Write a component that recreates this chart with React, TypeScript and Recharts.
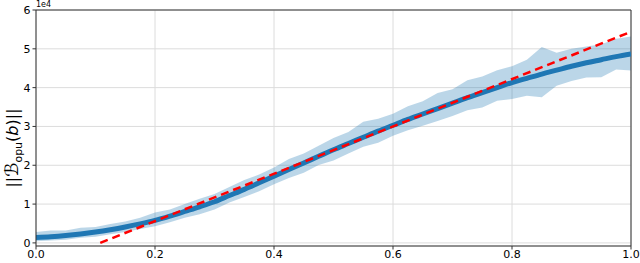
import React from "react";
import {
  ComposedChart,
  Area,
  Line,
  XAxis,
  YAxis,
  CartesianGrid,
  ReferenceLine,
} from "recharts";

// values in units of 1e4
const xs = [
  0, 0.025, 0.05, 0.075, 0.1, 0.125, 0.15, 0.175, 0.2, 0.225, 0.25, 0.275, 0.3,
  0.325, 0.35, 0.375, 0.4, 0.425, 0.45, 0.475, 0.5, 0.525, 0.55, 0.575, 0.6,
  0.625, 0.65, 0.675, 0.7, 0.725, 0.75, 0.775, 0.8, 0.825, 0.85, 0.875, 0.9,
  0.925, 0.95, 0.975, 1.0,
];
const meanVals = [
  0.14, 0.16, 0.19, 0.23, 0.28, 0.34, 0.41, 0.49, 0.58, 0.69, 0.81, 0.93, 1.06,
  1.22, 1.38, 1.55, 1.72, 1.89, 2.06, 2.23, 2.4, 2.56, 2.72, 2.88, 3.03, 3.18,
  3.32, 3.46, 3.6, 3.74, 3.87, 4.0, 4.13, 4.24, 4.35, 4.45, 4.55, 4.64, 4.72,
  4.8, 4.87,
];
const upperVals = [
  0.28, 0.32, 0.32, 0.39, 0.41, 0.49, 0.55, 0.65, 0.78, 0.86, 1.0, 1.14, 1.26,
  1.44, 1.62, 1.76, 1.94, 2.16, 2.3, 2.5, 2.7, 2.86, 3.12, 3.2, 3.33, 3.52,
  3.65, 3.86, 3.96, 4.19, 4.29, 4.45, 4.55, 4.72, 5.05, 4.9, 5.0, 5.06, 5.12,
  5.26, 5.32,
];
const lowerVals = [
  0.04, 0.06, 0.08, 0.13, 0.16, 0.22, 0.28, 0.36, 0.43, 0.53, 0.65, 0.74, 0.86,
  1.04, 1.18, 1.33, 1.51, 1.67, 1.81, 2.01, 2.12, 2.3, 2.48, 2.58, 2.76, 2.9,
  3.02, 3.14, 3.27, 3.42, 3.49, 3.66, 3.71, 3.79, 3.75, 4.05, 4.17, 4.26, 4.27,
  4.47, 4.44,
];

// red dashed reference line endpoints
const fitX = [0.108, 1.0];
const fitY = [0, 5.44];

const xTicks = [0, 0.2, 0.4, 0.6, 0.8, 1.0];
const yTicks = [0, 1, 2, 3, 4, 5, 6];

const data = xs.map((x, i) => ({
  x,
  mean: meanVals[i],
  band: [lowerVals[i], upperVals[i]],
}));
const fitData = fitX.map((x, i) => ({ x, fit: fitY[i] }));

const FONT = "DejaVu Sans, sans-serif";
const tickStyle = { fontSize: 11, fill: "#000", fontFamily: FONT };

export default function App() {
  return (
    <div style={{ position: "absolute", left: 0, top: 0, width: 640, height: 263, background: "#fff" }}>
      <ComposedChart
        width={640}
        height={263}
        data={data}
        margin={{ top: 10, right: 9, bottom: 0, left: 0 }}
      >
        <CartesianGrid stroke="#dcdcdc" strokeWidth={1} />
        <XAxis
          dataKey="x"
          type="number"
          domain={[0, 1]}
          ticks={xTicks}
          tickFormatter={(v: number) => v.toFixed(1)}
          tick={tickStyle}
          height={17}
          tickSize={3.5}
          tickMargin={1}
          stroke="#333"
          allowDataOverflow
        />
        <YAxis
          type="number"
          domain={[-0.08, 6]}
          ticks={yTicks}
          tick={tickStyle}
          width={36}
          tickSize={3.5}
          tickMargin={2}
          stroke="#333"
          allowDataOverflow
        />
        <ReferenceLine y={6} stroke="#333" strokeWidth={1} />
        <ReferenceLine x={1} stroke="#333" strokeWidth={1} />
        <Area
          dataKey="band"
          type="linear"
          stroke="none"
          fill="#1f77b4"
          fillOpacity={0.3}
          isAnimationActive={false}
        />
        <Line
          dataKey="mean"
          type="monotone"
          stroke="#1f77b4"
          strokeWidth={5}
          dot={false}
          isAnimationActive={false}
        />
        <Line
          data={fitData}
          dataKey="fit"
          type="linear"
          stroke="#ff0000"
          strokeWidth={2.5}
          strokeDasharray="8 5"
          dot={false}
          isAnimationActive={false}
        />
      </ComposedChart>
      <svg
        width={640}
        height={263}
        style={{ position: "absolute", left: 0, top: 0, pointerEvents: "none" }}
      >
        <text x={36} y={7} fontSize={8} fontFamily={FONT} fill="#000">
          1e4
        </text>
        <text
          transform="translate(18,148) rotate(-90)"
          textAnchor="middle"
          fontSize={16}
          fontFamily={FONT}
          fill="#000"
        >
          ||
          <tspan fontSize={18}>ℬ</tspan>
          <tspan fontSize={11} dy={4}>opu</tspan>
          <tspan dy={-4}>(</tspan>
          <tspan fontStyle="italic">b</tspan>
          <tspan>)||</tspan>
        </text>
      </svg>
    </div>
  );
}
